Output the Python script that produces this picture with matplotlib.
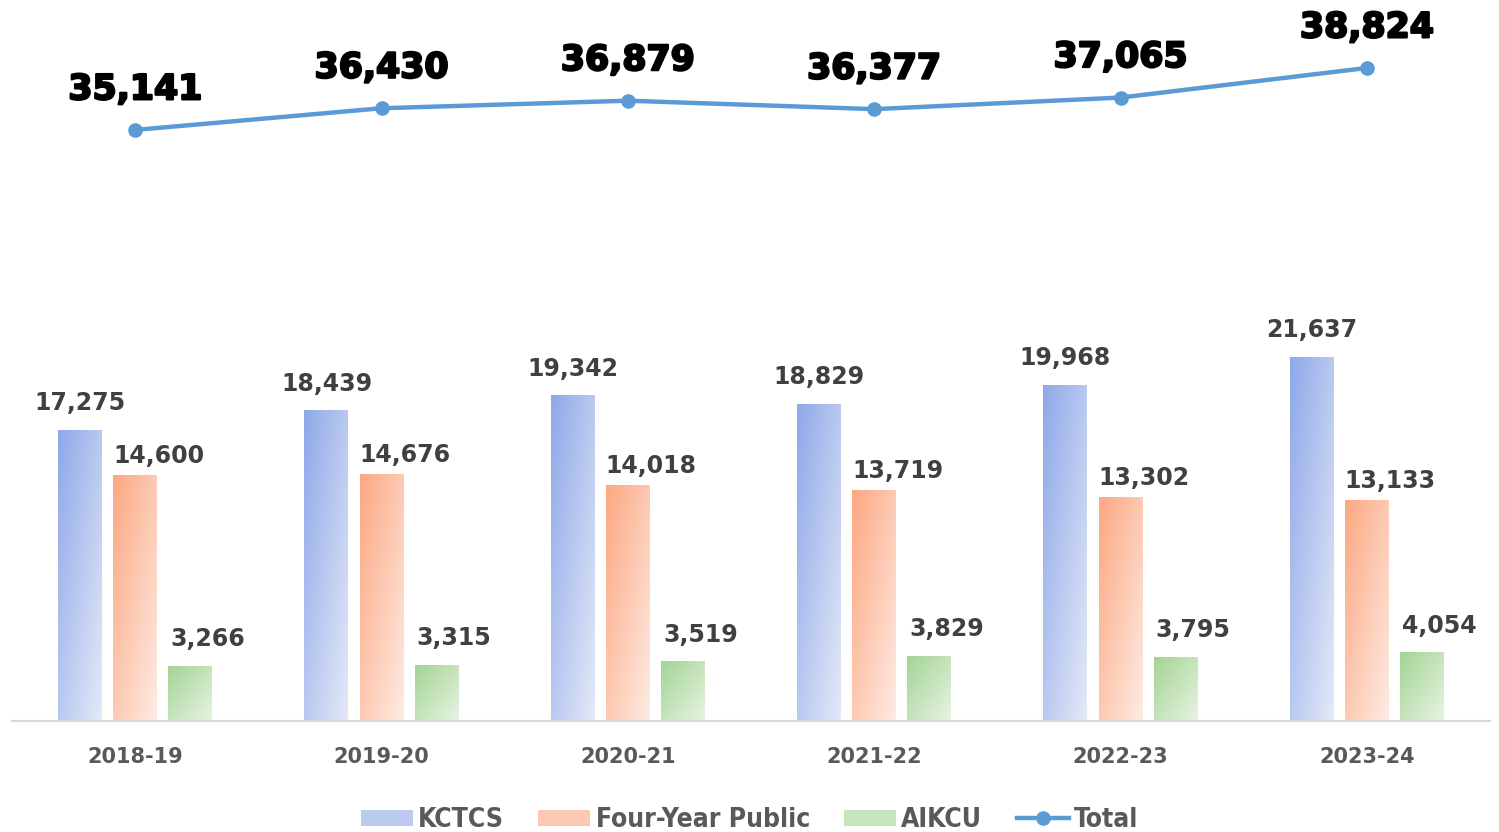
import numpy as np
import matplotlib.pyplot as plt
import matplotlib.patheffects as pe
from matplotlib.colors import LinearSegmentedColormap
from matplotlib.patches import Patch
from matplotlib.lines import Line2D

years = ['2018-19', '2019-20', '2020-21', '2021-22', '2022-23', '2023-24']
kctcs = [17275, 18439, 19342, 18829, 19968, 21637]
four_year = [14600, 14676, 14018, 13719, 13302, 13133]
aikcu = [3266, 3315, 3519, 3829, 3795, 4054]
total = [35141, 36430, 36879, 36377, 37065, 38824]

GRAY = '#595959'
LABEL = '#404040'

cm_blue = LinearSegmentedColormap.from_list('b', ['#8ea8e8', '#e4e9f8'])
cm_orange = LinearSegmentedColormap.from_list('o', ['#fca882', '#feebe3'])
cm_green = LinearSegmentedColormap.from_list('g', ['#a3d493', '#e8f3e4'])


def gradient_bars(ax, xs, vals, width, cmap):
    # diagonal gradient, top-left saturated -> bottom-right pale
    u = np.linspace(0, 1, 80)
    U, V = np.meshgrid(u, u)
    T = (U + V) / 2
    for x, v in zip(xs, vals):
        ax.imshow(T, extent=(x - width / 2, x + width / 2, 0, v), cmap=cmap,
                  vmin=0, vmax=1, aspect='auto', origin='upper',
                  interpolation='bilinear', zorder=2)


fig = plt.figure(figsize=(14.99, 8.32), dpi=100)
ax = fig.add_axes([12 / 1499, 111 / 832, 1478 / 1499, 721 / 832])

x = np.arange(len(years))
w = 0.1786
off = 0.2233

gradient_bars(ax, x - off, kctcs, w, cm_blue)
gradient_bars(ax, x, four_year, w, cm_orange)
gradient_bars(ax, x + off, aikcu, w, cm_green)

lab_kw = dict(textcoords='offset points', fontsize=17, fontweight='bold',
              color=LABEL, va='baseline')
for i in range(len(years)):
    ax.annotate(f'{kctcs[i]:,}', (x[i] - off, kctcs[i]), xytext=(0, 14.5),
                ha='center', **lab_kw)
    ax.annotate(f'{four_year[i]:,}', (x[i] - w / 2, four_year[i]),
                xytext=(0, 9), ha='left', **lab_kw)
    ax.annotate(f'{aikcu[i]:,}', (x[i] + off - w / 2, aikcu[i]),
                xytext=(1.5, 14.5), ha='left', **lab_kw)

ax.plot(x, total, color='#5b9bd5', lw=3.2, marker='o', ms=9.5, zorder=4)
for i, t in enumerate(total):
    ax.annotate(f'{t:,}', (x[i], t), xytext=(0, 22), textcoords='offset points',
                ha='center', va='baseline', fontsize=25, fontweight='bold',
                color='black',
                path_effects=[pe.withStroke(linewidth=1.6, foreground='black')])

ax.set_xlim(-0.5, len(years) - 0.5)
ax.set_ylim(0, 721 / 0.01682)
ax.set_yticks([])
ax.set_xticks(x)
ax.set_xticklabels(years, fontsize=15, fontweight='bold', color=GRAY)
ax.tick_params(axis='x', length=0, pad=19)
for s in ['top', 'left', 'right']:
    ax.spines[s].set_visible(False)
ax.spines['bottom'].set_color('#d9d9d9')
ax.spines['bottom'].set_linewidth(1.6)
ax.spines['bottom'].set_zorder(3)

handles = [Patch(facecolor='#bccaf0'), Patch(facecolor='#fdc9b2'),
           Patch(facecolor='#c7e5bc'),
           Line2D([0], [0], color='#5b9bd5', lw=3.2, marker='o', ms=9.5)]
leg = fig.legend(handles, ['KCTCS', 'Four-Year Public', 'AIKCU', 'Total'],
                 loc='lower center', bbox_to_anchor=(0.5, -0.03), ncol=4,
                 frameon=False, handlelength=1.97, handleheight=0.57,
                 handletextpad=0.2, columnspacing=1.3,
                 prop=dict(size=19, weight='bold', stretch='condensed'))
for t in leg.get_texts():
    t.set_color(GRAY)

fig.savefig('out.png', dpi=100)
